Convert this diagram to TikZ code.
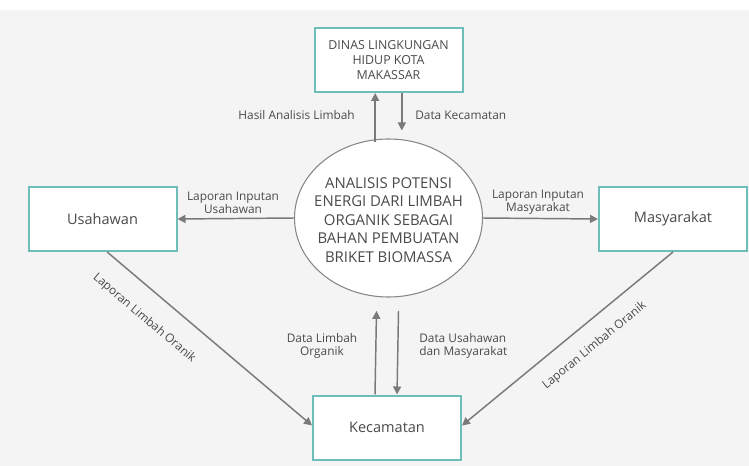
\documentclass[tikz,border=0pt]{standalone}
\usepackage{fontspec}
\setmainfont{Open Sans}
\usetikzlibrary{arrows.meta,shapes.geometric}
\definecolor{bgc}{HTML}{F4F4F4}
\definecolor{teal1}{HTML}{6DBDB8}
\definecolor{linec}{HTML}{7A7A7A}
\definecolor{txtc}{HTML}{4A4A4A}
\tikzset{
  ent/.style={draw=teal1, line width=1.5pt, fill=white, minimum width=111pt, minimum height=48pt, inner sep=0pt, text=txtc, font=\fontsize{10.9}{13}\selectfont},
  proc/.style={draw=linec!90, line width=0.8pt, fill=white, ellipse, minimum width=141pt, minimum height=118.5pt, inner sep=0pt},
  proctxt/.style={text=txtc, align=center, inner sep=0pt, font=\fontsize{11.2}{13.9}\selectfont},
  arr/.style={draw=linec, line width=1.1pt, -{Triangle[length=6pt,width=6pt]}},
  lbl/.style={text=txtc, font=\fontsize{8.9}{9.6}\selectfont, inner sep=0pt},
}
\begin{document}
\begin{tikzpicture}[x=0.75pt,y=-0.75pt]
\fill[bgc] (0,0) rectangle (749,466);
\fill[white] (0,0) rectangle (749,10);
\useasboundingbox (0,0) rectangle (749,466);
\node[ent, align=center, font=\fontsize{9.3}{11.5}\selectfont] (dinas) at (388.5,60) {DINAS LINGKUNGAN\\HIDUP KOTA\\MAKASSAR};
\node[proc] (proc) at (388.5,218) {};
\node[proctxt] (proctext) at (388.5,220) {ANALISIS POTENSI\\ENERGI DARI LIMBAH\\ORGANIK SEBAGAI\\BAHAN PEMBUATAN\\BRIKET BIOMASSA};
\node[ent] (usa) at (102.5,219) {Usahawan};
\node[ent] (mas) at (673,219) {Masyarakat};
\node[ent] (kec) at (387,427.5) {Kecamatan};
% top arrows
\draw[arr] ([xshift=-10pt,yshift=-3pt]proc.north) -- ([xshift=-10pt]dinas.south);
\draw[arr] ([xshift=10pt]dinas.south) -- ([xshift=10pt,yshift=6pt]proc.north);
\node[lbl, anchor=east] (l1) at (355,115) {Hasil Analisis Limbah};
\node[lbl, anchor=west] (l2) at (415,115) {Data Kecamatan};
% side arrows
\draw[arr] (proc.west) -- (usa.east);
\draw[arr] (proc.east) -- (mas.west);
\node[lbl, align=center] (l3) at (233,202.5) {Laporan Inputan\\Usahawan};
\node[lbl, align=center] (l4) at (538,202.5) {Laporan Inputan\\Masyarakat};
% bottom arrows
\draw[arr] ([xshift=-9pt]kec.north) -- ([xshift=-9pt,yshift=-10pt]proc.south);
\draw[arr] ([xshift=7.5pt,yshift=-10pt]proc.south) -- ([xshift=7.5pt]kec.north);
\node[lbl, align=center] (l5) at (322,346) {Data Limbah\\Organik};
\node[lbl, align=left, anchor=west] (l6) at (419,346) {Data Usahawan\\dan Masyarakat};
% diagonals
\draw[arr] ([xshift=3.5pt]usa.south) -- node[lbl, sloped, pos=0.265, below=15pt] {Laporan Limbah Oranik} ([yshift=1.5pt]kec.west);
\draw[arr] (mas.south) -- node[lbl, sloped, pos=0.44, below=12pt] {Laporan Limbah Oranik} ([yshift=1.5pt]kec.east);
\end{tikzpicture}
\end{document}
